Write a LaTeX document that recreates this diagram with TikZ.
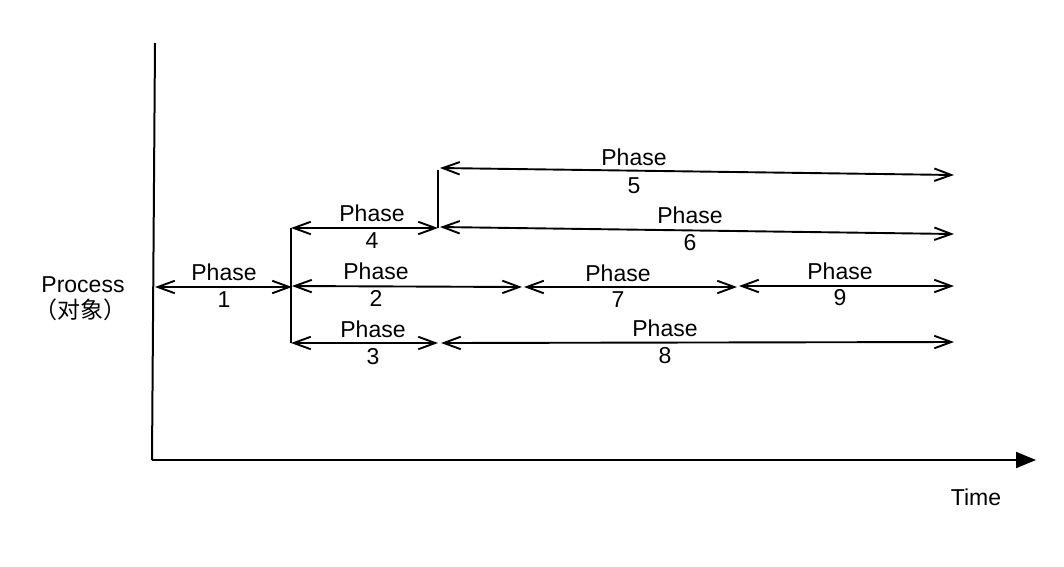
\documentclass[tikz,border=0pt]{standalone}
\usepackage{fontspec}
\setmainfont{Liberation Sans}
\newfontfamily\cjk{Noto Sans CJK SC}
\usetikzlibrary{arrows.meta}
\begin{document}
\begin{tikzpicture}[x=1pt,y=-1pt,
  lbl/.style={font=\fontsize{23}{25}\selectfont, inner sep=0pt},
  axis/.style={line width=2pt},
  barb/.tip={Straight Barb[length=17pt,width=12.5pt,line width=1.9pt]},
  phase/.style={line width=1.9pt, barb-barb},
  split/.style={line width=1.9pt}]
\useasboundingbox (0,0) rectangle (1064,566);
% axes
\coordinate (ytop) at (155,43);
\coordinate (origin) at (152,460);
\coordinate (xend) at (1036,460);
\draw[axis] (ytop) -- (origin);
\draw[axis, -{Triangle[length=20pt,width=16pt]}] (origin) -- (xend);
% coordinates
\coordinate (p1a) at (155,287); \coordinate (p1b) at (292,287);
\coordinate (s1t) at (291,228); \coordinate (s1b) at (291,343);
\coordinate (p4a) at (291,228); \coordinate (p4b) at (438,228);
\coordinate (p2a) at (292,286); \coordinate (p2b) at (522,287);
\coordinate (p3a) at (291,343); \coordinate (p3b) at (438,343);
\coordinate (s2t) at (438,170); \coordinate (s2b) at (438,228);
\coordinate (p5a) at (440,168); \coordinate (p5b) at (954,175);
\coordinate (p6a) at (440,227); \coordinate (p6b) at (954,234);
\coordinate (p7a) at (524,287); \coordinate (p7b) at (737,287);
\coordinate (p9a) at (739,286); \coordinate (p9b) at (954,286);
\coordinate (p8a) at (441,343); \coordinate (p8b) at (954,342);
% splits
\draw[split] (s1t) -- (s1b);
\draw[split] (s2t) -- (s2b);
% phases
\draw[phase] (p1a) -- (p1b);
\draw[phase] (p4a) -- (p4b);
\draw[phase] (p2a) -- (p2b);
\draw[phase] (p3a) -- (p3b);
\draw[phase] (p5a) -- (p5b);
\draw[phase] (p6a) -- (p6b);
\draw[phase] (p7a) -- (p7b);
\draw[phase] (p9a) -- (p9b);
\draw[phase] (p8a) -- (p8b);
% labels
\node[lbl] (l1a) at (224,272) {Phase}; \node[lbl] (l1b) at (224,300) {1};
\node[lbl] (l4a) at (372,213) {Phase}; \node[lbl] (l4b) at (372,241) {4};
\node[lbl] (l2a) at (376,271) {Phase}; \node[lbl] (l2b) at (376,298) {2};
\node[lbl] (l3a) at (373,329) {Phase}; \node[lbl] (l3b) at (373,357) {3};
\node[lbl] (l5a) at (634,157) {Phase}; \node[lbl] (l5b) at (634,186) {5};
\node[lbl] (l6a) at (690,215) {Phase}; \node[lbl] (l6b) at (690,243) {6};
\node[lbl] (l7a) at (618,273) {Phase}; \node[lbl] (l7b) at (618,300) {7};
\node[lbl] (l9a) at (840,271) {Phase}; \node[lbl] (l9b) at (840,298) {9};
\node[lbl] (l8a) at (665,328) {Phase}; \node[lbl] (l8b) at (665,356) {8};
\node[lbl] (proc) at (83,285) {Process};
\node[lbl] (obj) at (80,310) {\cjk （对象）};
\node[lbl] (time) at (976,497) {Time};
\end{tikzpicture}
\end{document}
